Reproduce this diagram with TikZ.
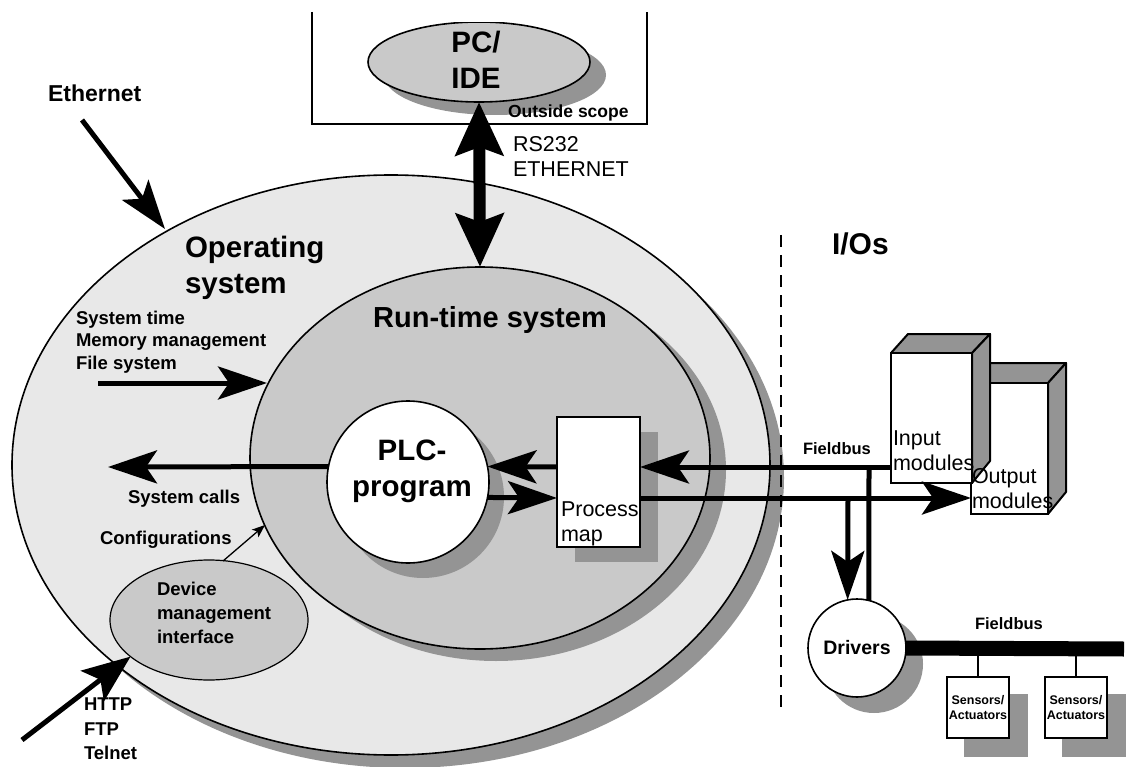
\documentclass[tikz,border=0pt]{standalone}
\usepackage{fontspec}
\setmainfont{Liberation Sans}
\usetikzlibrary{shapes.geometric,arrows.meta}

\definecolor{osfill}{gray}{0.91}
\definecolor{rtfill}{gray}{0.79}
\definecolor{shade}{gray}{0.58}

\begin{document}
\begin{tikzpicture}[x=1pt,y=-1pt,
  every node/.style={inner sep=0pt, outer sep=0pt},
  shadowfill/.style={fill=shade, draw=none},
  ring/.style={ellipse, draw=black, line width=1.6pt},
  bigtxt/.style={font=\bfseries\fontsize{29.5}{36}\selectfont, align=left},
  midtxt/.style={font=\bfseries\fontsize{18.5}{24}\selectfont, align=left},
  smalltxt/.style={font=\bfseries\fontsize{16.5}{20}\selectfont, align=left},
  tinytxt/.style={font=\bfseries\fontsize{12.5}{15}\selectfont, align=center},
  plaintxt/.style={font=\fontsize{21.5}{25}\selectfont, align=left},
  flow/.style={line width=5pt, -{Stealth[length=49pt,width=33pt,inset=11pt]}},
  thinflow/.style={line width=1.3pt, -{Stealth[length=13pt,width=10pt,inset=3pt]}},
  link/.style={line width=12pt, {Stealth[length=53pt,width=47pt,inset=8pt]}-{Stealth[length=53pt,width=47pt,inset=8pt]}},
  busline/.style={line width=5pt},
  modfront/.style={draw=black, line width=2pt, fill=white},
  modside/.style={draw=black, line width=2pt, fill=shade, line join=round},
  sensbox/.style={rectangle, draw=black, line width=2pt, fill=white, minimum width=62pt, minimum height=61pt},
]
\useasboundingbox (0,0) rectangle (1129,767);

% ---------- operating system ----------
\node[ellipse, shadowfill, minimum width=758pt, minimum height=580pt] (osshadow) at (405,478) {};
\node[ring, fill=osfill, minimum width=758pt, minimum height=580pt] (os) at (391,465) {};

% ---------- run-time system ----------
\node[ellipse, shadowfill, minimum width=460pt, minimum height=382pt] (rtsshadow) at (496,470) {};
\node[ring, fill=rtfill, minimum width=460pt, minimum height=382pt] (rts) at (480,458) {};

% ---------- PLC program ----------
\node[circle, shadowfill, minimum size=162pt] (plcshadow) at (423,497) {};
\node[circle, draw=black, line width=1.6pt, fill=white, minimum size=162pt] (plc) at (408,482) {};
\node[bigtxt, align=center, anchor=north] (plctxt) at (412,440) {PLC-\\program};

% ---------- process map ----------
\node[rectangle, shadowfill, minimum width=83pt, minimum height=130pt] (pmshadow) at (616.5,497) {};
\node[rectangle, draw=black, line width=1.6pt, fill=white, minimum width=83pt, minimum height=130pt] (pm) at (598.5,482) {};
\node[plaintxt, anchor=north west] (pmtxt) at (561,502) {Process\\map};

% ---------- device management interface ----------
\node[ring, line width=1.2pt, fill=rtfill, minimum width=198pt, minimum height=120pt] (dmi) at (209,620) {};
\node[midtxt, anchor=north west] (dmitxt) at (157,582) {Device\\management\\interface};

% ---------- PC / IDE, outside scope ----------
\coordinate (boxTL) at (312,12);
\coordinate (boxBL) at (312,124);
\coordinate (boxBR) at (647,124);
\coordinate (boxTR) at (647,12);
\draw[line width=2pt] (boxTL) -- (boxBL) -- (boxBR) -- (boxTR);
\begin{scope}
  \clip (0,23) rectangle (1129,767);
  \node[ellipse, shadowfill, minimum width=222pt, minimum height=80pt] (pcshadow) at (495,75) {};
  \node[ring, fill=rtfill, minimum width=222pt, minimum height=80pt] (pc) at (479,62) {};
\end{scope}
\node[bigtxt, align=center, anchor=north] (pctxt) at (476,31) {PC/\\IDE};
\node[font=\bfseries\fontsize{17.5}{20}\selectfont, anchor=north west] (scope) at (508,105) {Outside scope};
\node[plaintxt, anchor=north west] (rs) at (513,136) {RS232\\ETHERNET};
\draw[link] (pc.south) -- (rts.north);

% ---------- labels on the left ----------
\node[font=\bfseries\fontsize{23}{26}\selectfont, anchor=north west] (eth) at (48,85) {Ethernet};
\node[bigtxt, anchor=north west] (ostxt) at (185,236) {Operating\\system};
\node[font=\bfseries\fontsize{29}{34}\selectfont, anchor=north] (rtstxt) at (490,306) {Run-time system};
\node[midtxt, anchor=north west, font=\bfseries\fontsize{18.5}{22.5}\selectfont] (svc) at (76,311) {System time\\Memory management\\File system};
\node[midtxt, anchor=north west] (calls) at (128,490) {System calls};
\node[midtxt, anchor=north west] (conf) at (100,531) {Configurations};
\node[midtxt, anchor=north west, font=\bfseries\fontsize{18.5}{24.5}\selectfont] (proto) at (84,698) {HTTP\\FTP\\Telnet};

% ---------- connectors on the left ----------
\coordinate (ethS) at (82,120);
\coordinate (ethE) at (165,229);
\draw[flow] (ethS) -- (ethE);
\coordinate (svcS) at (98,383);
\coordinate (svcE) at (267,383);
\draw[flow] (svcS) -- (svcE);
\coordinate (callE) at (108,467);
\draw[flow] (plc.169) -- (callE);
\coordinate (confS) at (223,561);
\coordinate (confE) at (265,525);
\draw[thinflow] (confS) -- (confE);
\coordinate (httpS) at (22,740);
\draw[flow, -{Stealth[length=48pt,width=38pt,inset=10pt]}] (httpS) -- (dmi.205);

% ---------- run-time internal flows ----------
\draw[flow] ([yshift=15pt]pm.west) -- (plc.11);
\draw[flow] (plc.349) -- ([yshift=-16pt]pm.west);

% ---------- I/O side ----------
\coordinate (dashT) at (781,235);
\coordinate (dashB) at (781,712);
\draw[line width=2.5pt, dash pattern=on 12pt off 8pt] (dashT) -- (dashB);
\node[font=\bfseries\fontsize{30}{34}\selectfont, anchor=north west] (iotxt) at (832,233) {I/Os};

% output modules (behind)
\draw[modside] (971,383) -- (990,363) -- (1066,363) -- (1048,383) -- cycle;
\draw[modside] (1048,383) -- (1066,363) -- (1066,492) -- (1048,514) -- cycle;
\node[rectangle, modfront, minimum width=77pt, minimum height=131pt] (outm) at (1009.5,448.5) {};
% input modules (front)
\draw[modside] (891,353) -- (908,334) -- (990,334) -- (972,353) -- cycle;
\draw[modside] (972,353) -- (990,334) -- (990,461) -- (972,483) -- cycle;
\node[rectangle, modfront, minimum width=81pt, minimum height=130pt] (inm) at (931.5,418) {};
\node[plaintxt, anchor=north west] (intxt) at (893,431) {Input\\modules};
\node[plaintxt, anchor=north west] (outtxt) at (972,468) {Output\\modules};

% fieldbus to the modules
\node[smalltxt, anchor=north west] (fb1) at (803,443) {Fieldbus};
\coordinate (busIn) at (891,467);
\coordinate (busOut) at (971,498);
\draw[flow] (busIn) -- ([yshift=15pt]pm.east);
\draw[flow] ([yshift=-16pt]pm.east) -- (busOut);

% drivers
\node[circle, shadowfill, minimum size=98pt] (drvshadow) at (874,664) {};
\node[circle, draw=black, line width=1.6pt, fill=white, minimum size=98pt,
      font=\bfseries\fontsize{19.5}{22}\selectfont] (drv) at (857,648) {Drivers};
\coordinate (busJ) at (869,467);
\coordinate (busK) at (848,498);
\draw[busline] (busJ) -- (drv.76);
\draw[flow] (busK) -- (drv.101);

% field bus to sensors and actuators
\coordinate (barEnd) at (1124,649);
\draw[line width=15pt] (drv.east) -- (barEnd);
\node[smalltxt, anchor=north west] (fb2) at (975,618) {Fieldbus};

\node[rectangle, shadowfill, minimum width=64pt, minimum height=63pt] (s1shadow) at (996,725) {};
\node[sensbox, tinytxt] (s1) at (978,707.5) {Sensors/\\Actuators};
\node[rectangle, shadowfill, minimum width=64pt, minimum height=63pt] (s2shadow) at (1094,725) {};
\node[sensbox, tinytxt] (s2) at (1076,707.5) {Sensors/\\Actuators};
\draw[line width=2pt] (s1.north) -- (s1.north |- barEnd);
\draw[line width=2pt] (s2.north) -- (s2.north |- barEnd);
\end{tikzpicture}
\end{document}
